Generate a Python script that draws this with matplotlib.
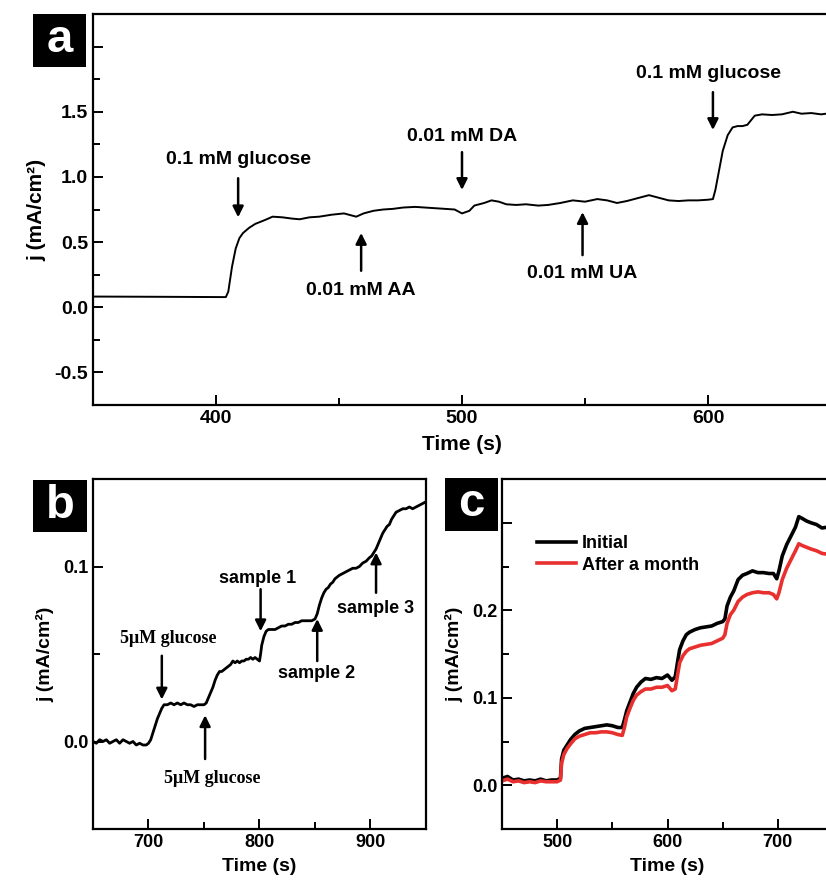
'''Amperometric responses: selectivity (a), real samples (b), stability (c).'''
import matplotlib
matplotlib.use('Agg')
import matplotlib.pyplot as plt  # pylint: disable=import-error
from matplotlib.patches import Rectangle  # pylint: disable=import-error
from matplotlib.ticker import MultipleLocator, FuncFormatter  # pylint: disable=import-error

plt.rcParams['font.family'] = ['Liberation Sans', 'DejaVu Sans']
plt.rcParams['font.weight'] = 'bold'
plt.rcParams['axes.labelweight'] = 'bold'
plt.rcParams['axes.unicode_minus'] = False

W, H = 826, 884

# ---- panel a: interference test ----
t_a = [350, 380, 402, 404, 405, 406.5, 408, 409.5, 411, 413.5, 416, 420, 423,
       427, 431, 434, 438, 442, 447, 452, 455, 457, 460, 464, 468, 472, 476,
       481, 485, 489, 493, 497, 500, 503, 505, 509, 512, 515, 518, 522, 526,
       531, 535, 540, 545, 550, 555, 559, 563, 567, 572, 576, 580, 584, 588,
       592, 596, 600, 602, 603, 604.5, 606, 608, 610, 612, 614, 616, 619, 622,
       626, 630, 634.5, 638, 642, 646, 650]
j_a = [0.082, 0.080, 0.078, 0.078, 0.12, 0.31, 0.45, 0.53, 0.57, 0.61, 0.64,
       0.67, 0.695, 0.69, 0.68, 0.675, 0.69, 0.695, 0.71, 0.72, 0.705, 0.695,
       0.72, 0.74, 0.75, 0.755, 0.765, 0.77, 0.765, 0.76, 0.755, 0.75, 0.72,
       0.74, 0.78, 0.80, 0.82, 0.81, 0.79, 0.785, 0.79, 0.78, 0.785, 0.80,
       0.82, 0.81, 0.83, 0.82, 0.80, 0.815, 0.84, 0.86, 0.84, 0.82, 0.815,
       0.82, 0.82, 0.825, 0.83, 0.90, 1.05, 1.20, 1.32, 1.38, 1.39, 1.39,
       1.40, 1.47, 1.48, 1.475, 1.48, 1.50, 1.485, 1.49, 1.48, 1.49]

arrows_a = [  # label, x, tail y, head y, text x, text y
    ('0.1 mM glucose', 409, 0.99, 0.69, 409, 1.13),
    ('0.01 mM AA', 459, 0.28, 0.57, 459, 0.13),
    ('0.01 mM DA', 500, 1.19, 0.90, 500, 1.31),
    ('0.01 mM UA', 549, 0.40, 0.73, 549, 0.26),
    ('0.1 mM glucose', 602, 1.65, 1.36, 600, 1.79),
]

# ---- panel b: real samples ----
t_b = [650, 653, 656, 659, 662, 665, 668, 671, 674, 677, 680, 683, 686, 689,
       692, 695, 698, 700, 702, 704, 706, 708, 710, 712, 714, 717, 720, 723,
       726, 729, 732, 735, 738, 741, 744, 747, 750, 752, 754, 756, 758, 760,
       762, 764, 766, 768, 770, 772, 774, 776, 778, 780, 782, 784, 786, 788,
       790, 792, 794, 796, 798, 800, 801, 802, 804, 806, 808, 811, 814, 817,
       820, 823, 826, 829, 832, 835, 838, 841, 844, 847, 850, 852, 854, 856,
       858, 860, 862, 864, 866, 868, 870, 872, 875, 878, 881, 884, 887, 890,
       893, 896, 899, 901, 903, 905, 907, 909, 911, 913, 915, 917, 919, 921,
       923, 926, 929, 932, 935, 938, 941, 944, 947, 950]
j_b = [0.000, -0.001, 0.001, 0.000, 0.001, -0.001, 0.000, 0.001, -0.001,
       0.001, 0.000, -0.001, 0.000, -0.002, -0.001, -0.002, -0.002, -0.001,
       0.001, 0.005, 0.009, 0.013, 0.016, 0.019, 0.021, 0.021, 0.022, 0.021,
       0.022, 0.021, 0.022, 0.021, 0.021, 0.020, 0.021, 0.021, 0.021, 0.022,
       0.025, 0.028, 0.031, 0.035, 0.038, 0.040, 0.040, 0.041, 0.042, 0.043,
       0.044, 0.046, 0.045, 0.046, 0.045, 0.046, 0.046, 0.047, 0.047, 0.048,
       0.047, 0.048, 0.047, 0.046, 0.050, 0.055, 0.060, 0.063, 0.064, 0.064,
       0.064, 0.065, 0.066, 0.066, 0.067, 0.067, 0.068, 0.068, 0.069, 0.069,
       0.069, 0.069, 0.070, 0.073, 0.078, 0.082, 0.085, 0.087, 0.088, 0.090,
       0.091, 0.093, 0.094, 0.095, 0.096, 0.097, 0.098, 0.099, 0.099, 0.100,
       0.102, 0.103, 0.105, 0.106, 0.108, 0.110, 0.113, 0.116, 0.119, 0.121,
       0.123, 0.124, 0.127, 0.129, 0.131, 0.132, 0.133, 0.133, 0.134, 0.133,
       0.134, 0.135, 0.136, 0.137]

arrows_b = [  # label, x, tail y, head y, text x, text y, serif
    ('5\u03bcM glucose', 712, 0.049, 0.024, 718, 0.059, True),
    ('5\u03bcM glucose', 751, -0.010, 0.015, 757, -0.021, True),
    ('sample 1', 801, 0.087, 0.063, 798, 0.093, False),
    ('sample 2', 852, 0.046, 0.070, 851, 0.039, False),
    ('sample 3', 905, 0.085, 0.108, 905, 0.076, False),
]

# ---- panel c: stability ----
t_c = [450, 455, 460, 465, 470, 475, 480, 485, 490, 495, 500, 503, 504, 506,
       509, 512, 516, 520, 525, 530, 535, 540, 545, 550, 555, 559, 561, 563,
       566, 569, 572, 576, 580, 585, 590, 595, 600, 604, 607, 609, 611, 614,
       617, 620, 625, 630, 635, 640, 645, 650, 652, 654, 657, 660, 664, 668,
       672, 677, 682, 687, 692, 696, 699, 701, 704, 708, 712, 716, 719, 722,
       726, 730, 735, 740, 745, 750]
j_initial = [0.008, 0.010, 0.006, 0.007, 0.005, 0.006, 0.005, 0.007, 0.005,
             0.006, 0.006, 0.008, 0.030, 0.040, 0.046, 0.052, 0.058, 0.062,
             0.065, 0.066, 0.067, 0.068, 0.069, 0.068, 0.066, 0.066, 0.075,
             0.085, 0.095, 0.105, 0.112, 0.118, 0.122, 0.121, 0.123, 0.122,
             0.126, 0.120, 0.124, 0.140, 0.155, 0.165, 0.172, 0.175, 0.178,
             0.180, 0.181, 0.182, 0.185, 0.187, 0.190, 0.205, 0.215, 0.222,
             0.235, 0.240, 0.242, 0.245, 0.243, 0.243, 0.242, 0.242, 0.236,
             0.245, 0.262, 0.275, 0.285, 0.295, 0.307, 0.305, 0.302, 0.300,
             0.298, 0.294, 0.295, 0.294]
j_month = [0.005, 0.007, 0.004, 0.005, 0.003, 0.004, 0.003, 0.005, 0.004,
           0.004, 0.004, 0.006, 0.025, 0.035, 0.042, 0.047, 0.053, 0.056,
           0.058, 0.060, 0.060, 0.061, 0.061, 0.060, 0.058, 0.057, 0.066,
           0.078, 0.088, 0.097, 0.103, 0.107, 0.110, 0.110, 0.112, 0.112,
           0.114, 0.108, 0.110, 0.125, 0.140, 0.148, 0.153, 0.156, 0.158,
           0.160, 0.161, 0.162, 0.165, 0.168, 0.172, 0.185, 0.195, 0.200,
           0.210, 0.215, 0.218, 0.220, 0.221, 0.220, 0.220, 0.218, 0.213,
           0.220, 0.235, 0.248, 0.258, 0.268, 0.276, 0.274, 0.272, 0.270,
           0.268, 0.265, 0.264, 0.262]
labels_c = ['Initial', 'After a month']


def px_axes(fig, left, top, right, bottom):
    '''Add axes from pixel edges (top-left origin).'''
    return fig.add_axes([left / W, 1 - bottom / H,
                         (right - left) / W, (bottom - top) / H])


def style_axes(ax, size):
    '''Inward ticks, thick frame, bold labels.'''
    for side in ax.spines.values():
        side.set_linewidth(1.6)
    ax.tick_params(which='both', direction='in', width=1.4,
                   labelsize=size, top=False, right=False)
    ax.tick_params(which='major', length=7)
    ax.tick_params(which='minor', length=5)
    for lab in ax.get_xticklabels() + ax.get_yticklabels():
        lab.set_fontweight('bold')


def hide_above(limit, fmt):
    '''Tick formatter that leaves labels under the panel tag blank.'''
    return FuncFormatter(lambda v, _: '' if v > limit else fmt.format(v))


def panel_tag(fig, left, top, right, bottom, letter):
    '''White letter on a black square, in pixel coords.'''
    fig.add_artist(Rectangle((left / W, 1 - bottom / H), (right - left) / W,
                             (bottom - top) / H, transform=fig.transFigure,
                             facecolor='black', edgecolor='none', zorder=5))
    fig.text((left + right) / 2 / W, 1 - (top + bottom) / 2 / H, letter,
             color='white', fontsize=34, fontweight='bold',
             ha='center', va='center', zorder=6)


def draw_arrow(ax, x, tail, head):
    ax.annotate('', xy=(x, head), xytext=(x, tail),
                arrowprops=dict(arrowstyle='-|>', color='black', lw=1.8,
                                mutation_scale=16, shrinkA=0, shrinkB=0))


fig = plt.figure(figsize=(W / 100, H / 100), dpi=100)

# panel a
ax_a = px_axes(fig, 93, 14, 831, 405)
ax_a.plot(t_a, j_a, color='black', lw=1.4)
ax_a.set_xlim(350, 650)
ax_a.set_ylim(-0.75, 2.25)
ax_a.xaxis.set_major_locator(MultipleLocator(100))
ax_a.xaxis.set_minor_locator(MultipleLocator(50))
ax_a.yaxis.set_major_locator(MultipleLocator(0.5))
ax_a.yaxis.set_minor_locator(MultipleLocator(0.25))
ax_a.yaxis.set_major_formatter(hide_above(1.75, '{:.1f}'))
ax_a.set_xlabel('Time (s)', fontsize=15, labelpad=6)
ax_a.set_ylabel('j (mA/cm\u00b2)', fontsize=15, labelpad=6)
style_axes(ax_a, 14)
for text, x, tail, head, tx, ty in arrows_a:
    draw_arrow(ax_a, x, tail, head)
    ax_a.text(tx, ty, text, fontsize=14, fontweight='bold',
              ha='center', va='center')

# panel b
ax_b = px_axes(fig, 93, 479, 426, 829)
ax_b.plot(t_b, j_b, color='black', lw=2.0)
ax_b.set_xlim(650, 950)
ax_b.set_ylim(-0.05, 0.15)
ax_b.xaxis.set_major_locator(MultipleLocator(100))
ax_b.xaxis.set_minor_locator(MultipleLocator(50))
ax_b.yaxis.set_major_locator(MultipleLocator(0.1))
ax_b.yaxis.set_minor_locator(MultipleLocator(0.05))
ax_b.set_xlabel('Time (s)', fontsize=14, labelpad=5)
ax_b.set_ylabel('j (mA/cm\u00b2)', fontsize=14, labelpad=6)
style_axes(ax_b, 13)
for text, x, tail, head, tx, ty, serif in arrows_b:
    draw_arrow(ax_b, x, tail, head)
    fam = ['Liberation Serif', 'DejaVu Serif'] if serif else None
    ax_b.text(tx, ty, text, fontsize=13, fontweight='bold', family=fam,
              ha='center', va='center')

# panel c
ax_c = px_axes(fig, 502, 479, 833, 829)
ax_c.plot(t_c, j_initial, color='black', lw=2.6, label=labels_c[0])
ax_c.plot(t_c, j_month, color='#e8302f', lw=2.6, label=labels_c[1])
ax_c.set_xlim(450, 750)
ax_c.set_ylim(-0.05, 0.35)
ax_c.xaxis.set_major_locator(MultipleLocator(100))
ax_c.xaxis.set_minor_locator(MultipleLocator(50))
ax_c.yaxis.set_major_locator(MultipleLocator(0.1))
ax_c.yaxis.set_minor_locator(MultipleLocator(0.05))
ax_c.yaxis.set_major_formatter(hide_above(0.25, '{:.1f}'))
ax_c.set_xlabel('Time (s)', fontsize=14, labelpad=5)
ax_c.set_ylabel('j (mA/cm\u00b2)', fontsize=14, labelpad=6)
style_axes(ax_c, 13)
ax_c.legend(loc='upper left', bbox_to_anchor=(0.105, 0.84), frameon=False,
            prop={'size': 13, 'weight': 'bold'}, handlelength=2.2,
            handletextpad=0.3, labelspacing=0.25, borderpad=0,
            borderaxespad=0)

panel_tag(fig, 33, 14, 86, 67, 'a')
panel_tag(fig, 33, 480, 87, 532, 'b')
panel_tag(fig, 445, 478, 498, 531, 'c')

fig.savefig('out.png', dpi=100)
